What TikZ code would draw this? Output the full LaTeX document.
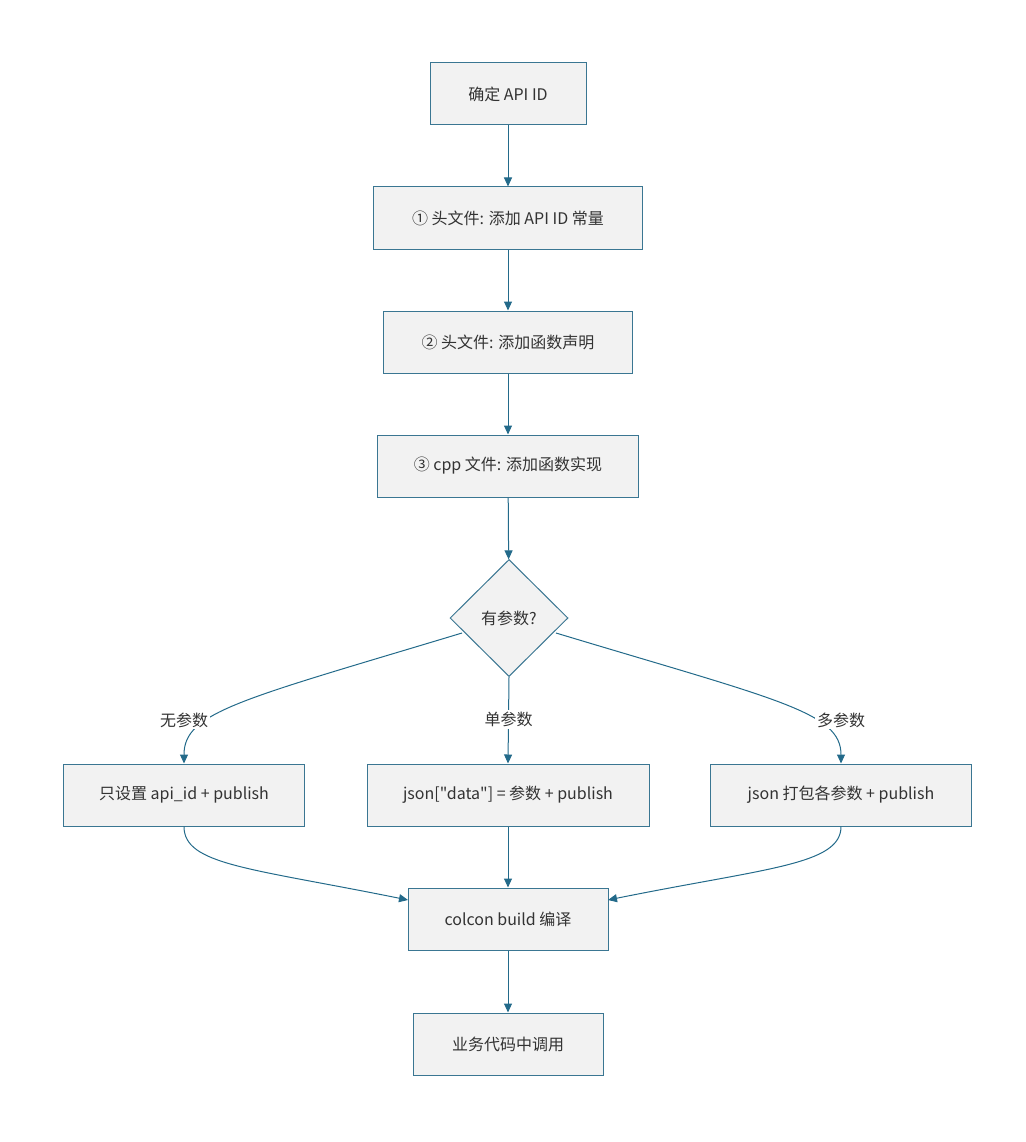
\documentclass[tikz,border=0pt]{standalone}
\usepackage{fontspec}
\newfontfamily\cjkfont{Noto Sans CJK SC}
\usetikzlibrary{arrows.meta,shapes.geometric}
\definecolor{boxfill}{HTML}{F2F2F2}
\definecolor{boxline}{HTML}{3A7692}
\definecolor{edgecol}{HTML}{236A8A}
\definecolor{txt}{HTML}{333333}
\begin{document}
\begin{tikzpicture}[x=1pt,y=-1pt,
  every node/.style={font=\cjkfont\fontsize{16}{19}\selectfont, text=txt},
  stepbox/.style={draw=boxline, fill=boxfill, line width=1pt, minimum height=62pt, inner sep=0pt},
  decision/.style={draw=boxline, fill=boxfill, line width=1pt, diamond, minimum width=118pt, minimum height=117pt, inner sep=0pt},
  edgelabel/.style={fill=white, inner sep=2pt},
  conn/.style={draw=edgecol, line width=1pt, -{Triangle[length=9pt,width=8pt]}}]
\useasboundingbox (0,0) rectangle (1025,1142);
\node[stepbox, minimum width=156pt] (a) at (508,94) {确定 API ID};
\node[stepbox, minimum width=269pt] (b) at (508,218) {① 头文件: 添加 API ID 常量};
\node[stepbox, minimum width=249pt] (c) at (508,342) {② 头文件: 添加函数声明};
\node[stepbox, minimum width=261pt] (d) at (508,466) {③ cpp 文件: 添加函数实现};
\node[decision] (q) at (509,618) {有参数?};
\node[stepbox, minimum width=241pt] (e) at (184,795) {只设置 api\_id + publish};
\node[stepbox, minimum width=282pt] (f) at (508,795) {json["data"] = 参数 + publish};
\node[stepbox, minimum width=261pt] (g) at (841,795) {json 打包各参数 + publish};
\node[stepbox, minimum width=200pt] (h) at (508,919) {colcon build 编译};
\node[stepbox, minimum width=190pt] (i) at (508,1044) {业务代码中调用};
\draw[conn] (a) -- (b);
\draw[conn] (b) -- (c);
\draw[conn] (c) -- (d);
\draw[conn] (d) -- (q);
\draw[conn] (q.south) -- node[edgelabel, pos=0.49] (l2) {单参数} (f.north);
\coordinate (ql) at (462,633);
\coordinate (qr) at (556,633);
\draw[conn] (ql) .. controls (240,700) and (184,712) .. (e.north);
\draw[conn] (qr) .. controls (778,700) and (841,712) .. (g.north);
\node[edgelabel] (l1) at (184,720) {无参数};
\node[edgelabel] (l3) at (841,720) {多参数};
\draw[conn] (f) -- (h);
\coordinate (hl) at (408,900);
\coordinate (hr) at (608,900);
\draw[conn] (e.south) .. controls (184,865) and (250,868) .. (hl);
\draw[conn] (g.south) .. controls (841,865) and (766,868) .. (hr);
\draw[conn] (h) -- (i);
\end{tikzpicture}
\end{document}
